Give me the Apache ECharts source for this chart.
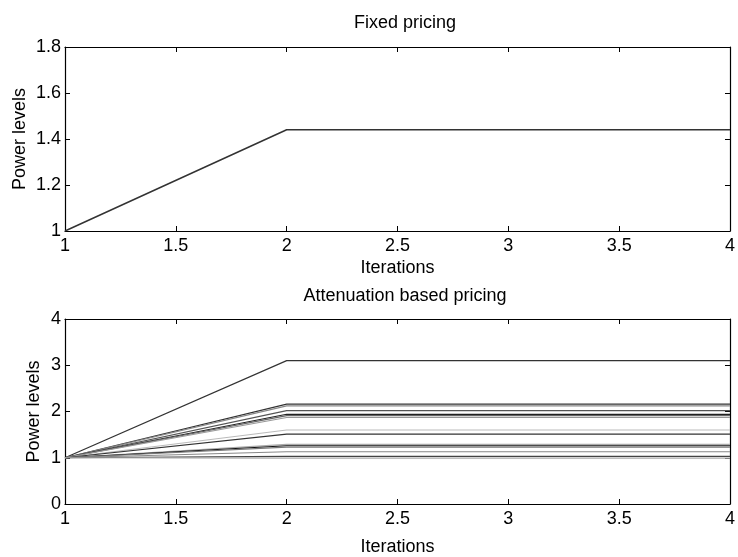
<!DOCTYPE html>
<html>
<head>
<meta charset="utf-8">
<script src="https://cdn.jsdelivr.net/npm/echarts@6/dist/echarts.min.js"></script>
<style>
  html, body { margin: 0; padding: 0; background: #fff; }
  #chart { width: 738px; height: 557px; }
</style>
</head>
<body>
<div id="chart"></div>
<script>
// data
const iterations = [1, 2, 3, 4];
const fixedPower = [1, 1.44, 1.44, 1.44];
// one row per user: power level at each iteration
const attenuationPower = [
  [1, 3.10, 3.10, 3.10],
  [1, 2.16, 2.16, 2.16],
  [1, 2.12, 2.12, 2.12],
  [1, 2.02, 2.02, 2.02],
  [1, 1.94, 1.94, 1.94],
  [1, 1.91, 1.91, 1.91],
  [1, 1.87, 1.87, 1.87],
  [1, 1.60, 1.60, 1.60],
  [1, 1.51, 1.51, 1.51],
  [1, 1.29, 1.29, 1.29],
  [1, 1.26, 1.26, 1.26],
  [1, 1.23, 1.23, 1.23],
  [1, 1.13, 1.13, 1.13],
  [1, 1.03, 1.03, 1.03],
  [1, 0.99, 0.99, 0.99]
];
const lineGrays = ['#333', '#333', '#888', '#555', '#222', '#666', '#999', '#bbb',
  '#333', '#aaa', '#111', '#777', '#888', '#444', '#aaa'];

const font = 'Liberation Sans, Arial, sans-serif';
const txt = { color: '#000', fontSize: 18, fontFamily: font };
const axisLineStyle = { color: '#000', width: 1.2 };

function xAxes(gridIndex, nameGap) {
  return [
    {
      type: 'value', gridIndex, min: 1, max: 4, interval: 0.5,
      name: 'Iterations', nameLocation: 'middle', nameGap, nameTextStyle: txt,
      nameMoveOverlap: false,
      axisLine: { show: true, onZero: false, lineStyle: axisLineStyle },
      axisTick: { inside: true, length: 5, lineStyle: { color: '#000' } },
      axisLabel: { ...txt, margin: 6 },
      splitLine: { show: false }
    },
    {
      type: 'value', gridIndex, position: 'top', min: 1, max: 4, interval: 0.5,
      axisLine: { show: true, onZero: false, lineStyle: axisLineStyle },
      axisTick: { inside: true, length: 5, lineStyle: { color: '#000' } },
      axisLabel: { show: false },
      splitLine: { show: false }
    }
  ];
}

function yAxes(gridIndex, min, max, interval, nameGap) {
  return [
    {
      type: 'value', gridIndex, min, max, interval,
      name: 'Power levels', nameLocation: 'middle', nameGap, nameTextStyle: txt,
      nameMoveOverlap: false,
      axisLine: { show: true, onZero: false, lineStyle: axisLineStyle },
      axisTick: { inside: true, length: 5, lineStyle: { color: '#000' } },
      axisLabel: { ...txt, margin: 4, formatter: v => String(+v.toFixed(1)) },
      splitLine: { show: false }
    },
    {
      type: 'value', gridIndex, position: 'right', min, max, interval,
      axisLine: { show: true, onZero: false, lineStyle: axisLineStyle },
      axisTick: { inside: true, length: 5, lineStyle: { color: '#000' } },
      axisLabel: { show: false },
      splitLine: { show: false }
    }
  ];
}

const series = [
  {
    type: 'line', xAxisIndex: 0, yAxisIndex: 0, symbol: 'none',
    data: iterations.map((x, i) => [x, fixedPower[i]]),
    lineStyle: { color: '#333', width: 1.5 }
  }
];
attenuationPower.forEach((row, k) => {
  series.push({
    type: 'line', xAxisIndex: 2, yAxisIndex: 2, symbol: 'none',
    data: iterations.map((x, i) => [x, row[i]]),
    lineStyle: { color: lineGrays[k], width: 1.2 }
  });
});

const chart = echarts.init(document.getElementById('chart'));
chart.setOption({
  animation: false,
  backgroundColor: '#fff',
  title: [
    { text: 'Fixed pricing', left: 400, top: 9, textAlign: 'center', textStyle: { ...txt, fontWeight: 'normal' } },
    { text: 'Attenuation based pricing', left: 400, top: 282, textAlign: 'center', textStyle: { ...txt, fontWeight: 'normal' } }
  ],
  grid: [
    { left: 65, right: 3, top: 47, height: 184 },
    { left: 65, right: 3, top: 319, height: 185 }
  ],
  xAxis: [...xAxes(0, 28), ...xAxes(1, 34)],
  yAxis: [...yAxes(0, 1, 1.8, 0.2, 36), ...yAxes(1, 0, 4, 1, 22)],
  series
});
</script>
</body>
</html>
